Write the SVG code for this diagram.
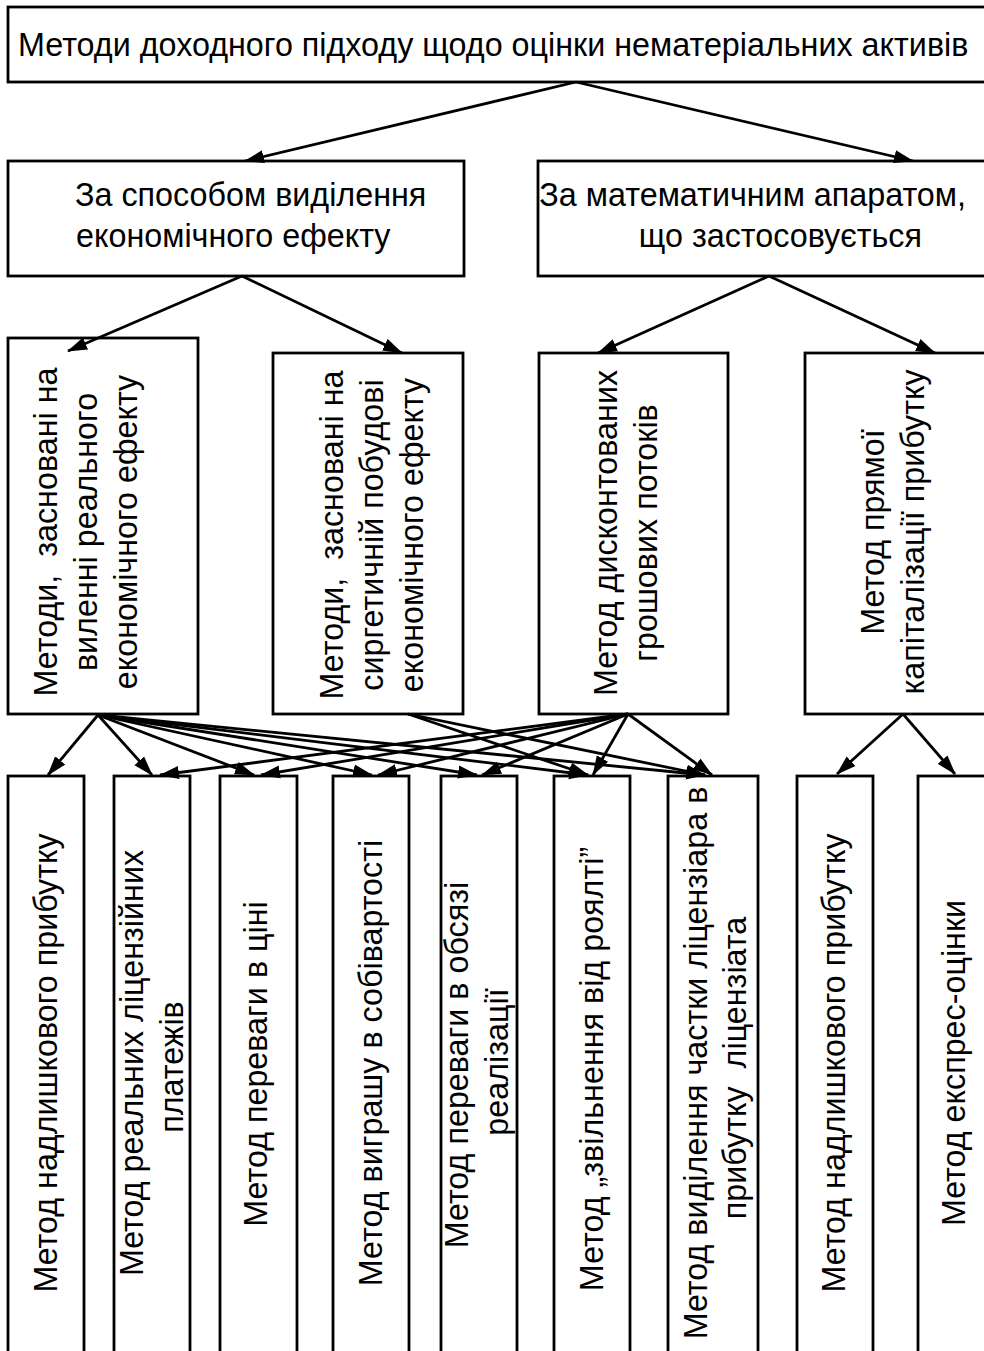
<svg xmlns="http://www.w3.org/2000/svg" width="984" height="1351" viewBox="0 0 984 1351">
<defs>
<style>
.box{fill:#fff;stroke:#000;stroke-width:2.8}
.t{font-family:"Liberation Sans",Arial,sans-serif;font-size:32.3px;fill:#000}
.m{text-anchor:middle}
.c{stroke:#000;stroke-width:2.8;fill:none;marker-end:url(#ah)}
</style>
<marker id="ah" markerUnits="userSpaceOnUse" markerWidth="21" markerHeight="14" refX="19" refY="7" orient="auto">
<path d="M0,0.5 L20,7 L0,13.5 z" fill="#000"/>
</marker>
</defs>
<rect width="984" height="1351" fill="#fff"/>

<g id="n-top">
<rect class="box" x="8" y="7" width="1000" height="75"/>
<text class="t" x="18" y="56">Методи доходного підходу щодо оцінки нематеріальних активів</text>
</g>

<g id="n-l2a">
<rect class="box" x="8" y="161" width="456" height="115"/>
<text class="t" x="75" y="206">За способом виділення</text>
<text class="t" x="76" y="247">економічного ефекту</text>
</g>
<g id="n-l2b">
<rect class="box" x="538" y="161" width="470" height="115"/>
<text class="t" x="966" y="206" text-anchor="end">За математичним апаратом,</text>
<text class="t" x="922" y="247" text-anchor="end">що застосовується</text>
</g>

<g id="n-a">
<rect class="box" x="8" y="338" width="190" height="376"/>
<text class="t m" transform="translate(57,532) rotate(-90)">Методи,&#160; засновані на</text>
<text class="t m" transform="translate(97,532) rotate(-90)">виленні реального</text>
<text class="t m" transform="translate(137,532) rotate(-90)">економічного ефекту</text>
</g>
<g id="n-b">
<rect class="box" x="273" y="353" width="190" height="361"/>
<text class="t m" transform="translate(343,535) rotate(-90)">Методи,&#160; засновані на</text>
<text class="t m" transform="translate(383,535) rotate(-90)">сиргетичній побудові</text>
<text class="t m" transform="translate(423,535) rotate(-90)">економічного ефекту</text>
</g>
<g id="n-c">
<rect class="box" x="539" y="353" width="189" height="361"/>
<text class="t m" transform="translate(617,533) rotate(-90)">Метод дисконтованих</text>
<text class="t m" transform="translate(657,533) rotate(-90)">грошових потоків</text>
</g>
<g id="n-d">
<rect class="box" x="805" y="353" width="190" height="361"/>
<text class="t m" transform="translate(884,532) rotate(-90)">Метод прямої</text>
<text class="t m" transform="translate(924,532) rotate(-90)">капіталізації прибутку</text>
</g>

<g id="n-1">
<rect class="box" x="8" y="776" width="76" height="590"/>
<text class="t m" transform="translate(57,1063) rotate(-90)">Метод надлишкового прибутку</text>
</g>
<g id="n-2">
<rect class="box" x="114" y="776" width="76" height="590"/>
<text class="t m" transform="translate(143,1063) rotate(-90)">Метод реальних ліцензійних</text>
<text class="t m" transform="translate(183,1067) rotate(-90)">платежів</text>
</g>
<g id="n-3">
<rect class="box" x="220" y="776" width="77" height="590"/>
<text class="t m" transform="translate(267,1064) rotate(-90)">Метод переваги в ціні</text>
</g>
<g id="n-4">
<rect class="box" x="333" y="776" width="76" height="590"/>
<text class="t m" transform="translate(382,1063) rotate(-90)">Метод виграшу в собівартості</text>
</g>
<g id="n-5">
<rect class="box" x="441" y="776" width="76" height="590"/>
<text class="t m" transform="translate(468,1065) rotate(-90)">Метод переваги в обсязі</text>
<text class="t m" transform="translate(508,1062) rotate(-90)">реалізації</text>
</g>
<g id="n-6">
<rect class="box" x="554" y="776" width="76" height="590"/>
<text class="t m" transform="translate(603,1069) rotate(-90)">Метод „звільнення від роялті”</text>
</g>
<g id="n-7">
<rect class="box" x="668" y="776" width="90" height="590"/>
<text class="t m" transform="translate(707,1063) rotate(-90)">Метод виділення частки ліцензіара в</text>
<text class="t m" transform="translate(746,1068) rotate(-90)">прибутку&#160; ліцензіата</text>
</g>
<g id="n-8">
<rect class="box" x="797" y="776" width="76" height="590"/>
<text class="t m" transform="translate(845,1063) rotate(-90)">Метод надлишкового прибутку</text>
</g>
<g id="n-9">
<rect class="box" x="918" y="776" width="76" height="590"/>
<text class="t m" transform="translate(965,1063) rotate(-90)">Метод експрес-оцінки</text>
</g>

<g id="connectors">
<line class="c" x1="576" y1="82" x2="245" y2="161"/>
<line class="c" x1="576" y1="82" x2="913" y2="161"/>
<line class="c" x1="242" y1="276" x2="68" y2="351"/>
<line class="c" x1="242" y1="276" x2="402" y2="353"/>
<line class="c" x1="769" y1="276" x2="598" y2="353"/>
<line class="c" x1="769" y1="276" x2="935" y2="353"/>
<line class="c" x1="98" y1="715" x2="48" y2="775"/>
<line class="c" x1="98" y1="715" x2="152" y2="775"/>
<line class="c" x1="98" y1="715" x2="254" y2="775"/>
<line class="c" x1="98" y1="715" x2="372" y2="775"/>
<line class="c" x1="98" y1="715" x2="477" y2="775"/>
<line class="c" x1="98" y1="715" x2="588" y2="775"/>
<line class="c" x1="98" y1="715" x2="705" y2="775"/>
<line class="c" x1="408" y1="714" x2="588" y2="775"/>
<line class="c" x1="408" y1="714" x2="705" y2="775"/>
<line class="c" x1="628" y1="714" x2="160" y2="775"/>
<line class="c" x1="628" y1="714" x2="261" y2="775"/>
<line class="c" x1="628" y1="714" x2="378" y2="775"/>
<line class="c" x1="628" y1="714" x2="482" y2="775"/>
<line class="c" x1="628" y1="714" x2="593" y2="775"/>
<line class="c" x1="628" y1="714" x2="712" y2="775"/>
<line class="c" x1="903" y1="714" x2="837" y2="774"/>
<line class="c" x1="903" y1="714" x2="955" y2="774"/>
</g>
</svg>
